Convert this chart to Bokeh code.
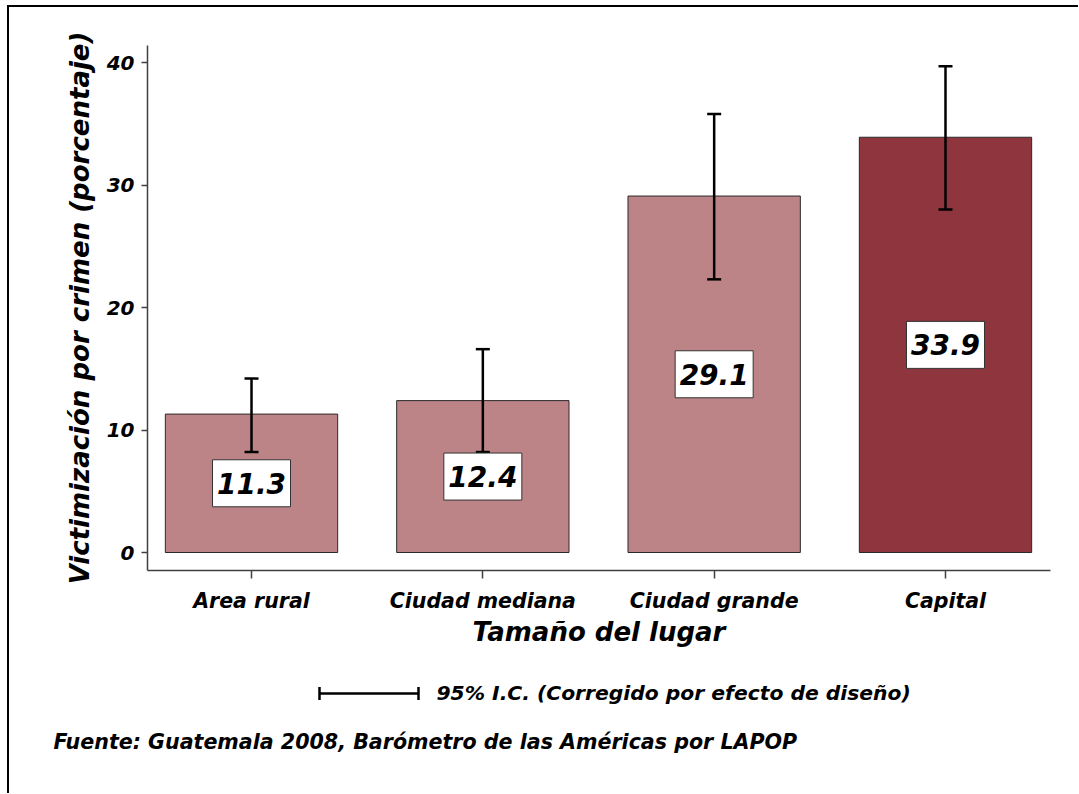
from bokeh.plotting import figure
from bokeh.models import Range1d, FixedTicker, ColumnDataSource
from bokeh.layouts import column
from bokeh.embed import file_html
from bokeh.resources import INLINE
from bokeh.core.properties import value

# ---- data ----
categories = ["Area rural", "Ciudad mediana", "Ciudad grande", "Capital"]
pct = [11.3, 12.4, 29.1, 33.9]
ci_low = [8.2, 8.2, 22.3, 28.0]
ci_high = [14.2, 16.6, 35.8, 39.7]
bar_colors = ["#BC8487", "#BC8487", "#BC8487", "#8E353E"]
y_ticks = [0, 10, 20, 30, 40]
x_title = "Tamaño del lugar"
y_title = "Victimización por crimen (porcentaje)"
ci_text = "95% I.C. (Corregido por efecto de diseño)"
source_text = "Fuente: Guatemala 2008, Barómetro de las Américas por LAPOP"

FONT = "DejaVu Sans"
idx = list(range(len(categories)))
src = ColumnDataSource(dict(
    x=idx, pct=pct, lo=ci_low, hi=ci_high, color=bar_colors,
    mid=[v / 2 for v in pct], lab=[f"{v:.1f}" for v in pct],
))

W = 1069
H1 = 650
p = figure(width=W, height=H1,
           x_range=Range1d(-0.4496, 3.4539), y_range=Range1d(-1.469, 41.39),
           output_backend="svg", toolbar_location=None,
           min_border_left=138, min_border_top=38, min_border_right=W - 1041,
           min_border_bottom=87)
p.frame_align = False
p.outline_line_color = None
p.xgrid.visible = False
p.ygrid.visible = False
p.background_fill_color = "white"
p.border_fill_color = "white"

p.vbar(x="x", top="pct", width=0.745, bottom=0, source=src,
       fill_color="color", line_color="#2a2a2a", line_width=1)

p.segment(x0="x", y0="lo", x1="x", y1="hi", source=src,
          line_color="black", line_width=2.5)
p.scatter(x="x", y="lo", source=src, marker="dash", size=14,
          line_color="black", line_width=2.5)
p.scatter(x="x", y="hi", source=src, marker="dash", size=14,
          line_color="black", line_width=2.5)

p.rect(x="x", y="mid", width=78, height=47, width_units="screen",
       height_units="screen", source=src, fill_color="white",
       line_color="#333333", line_width=1)
p.text(x="x", y="mid", text="lab", source=src, text_align="center",
       text_baseline="middle", text_font=value(FONT),
       text_font_style="bold italic", text_font_size="28px",
       text_color="black")

# axes
for ax in (p.xaxis[0], p.yaxis[0]):
    ax.axis_line_color = "#404040"
    ax.axis_line_width = 1.5
    ax.major_tick_line_color = "#404040"
    ax.major_tick_line_width = 1.5
    ax.minor_tick_line_color = None
    ax.major_tick_in = 0
    ax.major_label_text_font = FONT
    ax.major_label_text_font_style = "bold italic"
    ax.major_label_text_color = "black"
    ax.axis_label_text_font = FONT
    ax.axis_label_text_font_style = "bold italic"
    ax.axis_label_text_color = "black"

p.xaxis.ticker = FixedTicker(ticks=idx)
p.xaxis.major_label_overrides = {i: c for i, c in zip(idx, categories)}
p.xaxis.major_tick_out = 8
p.xaxis.major_label_standoff = 10
p.xaxis.major_label_text_font_size = "20.5px"
p.xaxis.axis_label = x_title
p.xaxis.axis_label_text_font_size = "26px"
p.xaxis.axis_label_standoff = 1

p.yaxis.ticker = FixedTicker(ticks=y_ticks)
p.yaxis.major_tick_out = 6
p.yaxis.major_label_standoff = 7
p.yaxis.major_label_text_font_size = "20px"
p.yaxis.axis_label = y_title
p.yaxis.axis_label_text_font_size = "26px"
p.yaxis.axis_label_standoff = 9

# ---- footer figure: CI legend and source ----
H2 = 136
p2 = figure(width=W, height=H2, x_range=Range1d(0, W), y_range=Range1d(H2, 0),
            x_axis_type=None, y_axis_type=None, output_backend="svg",
            toolbar_location=None, min_border=0)
p2.frame_align = False
p2.outline_line_color = None
p2.background_fill_color = "white"
p2.border_fill_color = "white"
p2.grid.visible = False

p2.segment(x0=[310], y0=[36], x1=[409], y1=[36], line_color="black", line_width=2.5)
p2.scatter(x=[310, 409], y=[36, 36], marker="dash", angle=1.5708, size=13,
           line_color="black", line_width=2.5)
p2.text(x=[427], y=[35], text=[ci_text], text_align="left", text_baseline="middle",
        text_font=value(FONT), text_font_style="bold italic",
        text_font_size="20.3px", text_color="black")
p2.text(x=[44], y=[84], text=[source_text], text_align="left",
        text_baseline="middle", text_font=value(FONT),
        text_font_style="bold italic", text_font_size="20.6px", text_color="black")

layout = column(p, p2, spacing=0,
                styles={"border-top": "2px solid black",
                        "border-left": "2px solid black",
                        "margin-left": "7px", "margin-top": "5px"})

open("out.html", "w").write(file_html(layout, INLINE))
